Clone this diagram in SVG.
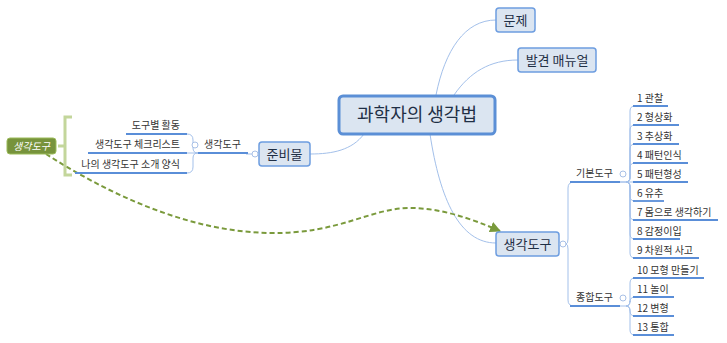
<svg xmlns="http://www.w3.org/2000/svg" width="727" height="343" viewBox="0 0 727 343">
<defs>
<style>
.t{font-family:"Noto Sans CJK KR","Noto Sans",sans-serif;fill:#333}
.nt{font-size:13px;fill:#1f2f45;text-anchor:middle}
.ct{font-size:18px;fill:#1f2f45;text-anchor:middle}
.lb{font-size:10px}
.box{fill:#dbe5f1;stroke:#6d9de0;stroke-width:1.5}
.cbox{fill:#dbe5f1;stroke:#5b8fd6;stroke-width:3}
.ul{stroke:#5a8ed8;stroke-width:1.8;fill:none}
.cn{stroke:#a3c0ea;stroke-width:1;fill:none}
.tg{fill:#fff;stroke:#a8c0e6;stroke-width:1}
</style>
<marker id="ah" viewBox="0 0 10 10" refX="9" refY="5" markerWidth="11" markerHeight="11" markerUnits="userSpaceOnUse" orient="auto">
<path d="M0,0 L10,5 L0,10 z" fill="#7a9a3c"/>
</marker>
</defs>
<rect width="727" height="343" fill="#fff"/>

<g id="connectors">
<path class="cn" d="M364 134 C352 150 333 154 310 154"/>
<path class="cn" d="M436 95 C445 50 465 20 496 20"/>
<path class="cn" d="M454 95 C470 72 490 60 518 60"/>
<path class="cn" d="M430 134 C440 200 460 243 496 243"/>
<path class="cn" d="M252 154 H246"/>
<path class="cn" d="M198 153 Q193 153 193 148 V140 Q193 134 187 134"/>
<path class="cn" d="M198 153 H187"/>
<path class="cn" d="M198 153 Q193 153 193 158 V167 Q193 173 187 173"/>
<path class="cn" d="M566 244 Q568 244 568 239 V188 Q568 182 574 182"/>
<path class="cn" d="M566 244 Q568 244 568 249 V300 Q568 306 574 306"/>
<path class="cn" d="M620 182 H626 Q630 182 630 177 V111 Q630 106 635 106"/>
<path class="cn" d="M626 182 Q630 182 630 177 V130 Q630 125 635 125"/>
<path class="cn" d="M626 182 Q630 182 630 177 V149 Q630 144 635 144"/>
<path class="cn" d="M626 182 Q630 182 630 177 V168 Q630 163 635 163"/>
<path class="cn" d="M620 182 H635"/>
<path class="cn" d="M626 182 Q630 182 630 187 V196 Q630 201 635 201"/>
<path class="cn" d="M626 182 Q630 182 630 187 V215 Q630 220 635 220"/>
<path class="cn" d="M626 182 Q630 182 630 187 V234 Q630 239 635 239"/>
<path class="cn" d="M626 182 Q630 182 630 187 V253 Q630 258 635 258"/>
<path class="cn" d="M620 306 H626 Q630 306 630 301 V283 Q630 278 635 278"/>
<path class="cn" d="M626 306 Q630 306 630 301 V302 Q630 297 635 297"/>
<path class="cn" d="M626 306 Q630 306 630 311 V311 Q630 316 635 316"/>
<path class="cn" d="M626 306 Q630 306 630 311 V330 Q630 335 635 335"/>
<path d="M46 154 C110 195 190 232 270 233 C340 234 370 208 410 208 C440 208 470 218 500 231" fill="none" stroke="#7a9a3c" stroke-width="2" stroke-dasharray="5,3" marker-end="url(#ah)"/>
</g>

<g id="central">
<rect class="cbox" x="339" y="96" width="156" height="38" rx="4"/>
<text class="t ct" x="417" y="121">과학자의 생각법</text>
</g>
<g id="n-problem">
<rect class="box" x="496" y="8" width="39" height="24" rx="3"/>
<text class="t nt" x="515.5" y="25">문제</text>
</g>
<g id="n-manual">
<rect class="box" x="518" y="48" width="78" height="24" rx="3"/>
<text class="t nt" x="557" y="65">발견 매뉴얼</text>
</g>
<g id="n-prep">
<rect class="box" x="259" y="142" width="51" height="24" rx="3"/>
<text class="t nt" x="284.5" y="159">준비물</text>
<circle class="tg" cx="255" cy="154" r="3"/>
</g>
<g id="n-tools">
<rect class="box" x="496" y="232" width="63" height="24" rx="3"/>
<text class="t nt" x="527.5" y="249">생각도구</text>
<circle class="tg" cx="563" cy="244" r="3"/>
</g>

<g id="n-left-tools">
<text class="t lb" x="222.5" y="148" text-anchor="middle">생각도구</text>
<path class="ul" d="M198 153 H248"/>
<circle class="tg" cx="195" cy="145" r="3"/>
</g>
<g id="n-l1"><text class="t lb" x="180" y="129" text-anchor="end">도구별 활동</text><path class="ul" d="M126 134 H187"/></g>
<g id="n-l2"><text class="t lb" x="180" y="148" text-anchor="end">생각도구 체크리스트</text><path class="ul" d="M88 153 H187"/></g>
<g id="n-l3"><text class="t lb" x="180" y="168" text-anchor="end">나의 생각도구 소개 양식</text><path class="ul" d="M75 173 H187"/></g>

<g id="n-summary">
<path d="M72 117 H65 V175 H72 M65 146 H58" fill="none" stroke="#c3d69b" stroke-width="3"/>
<rect x="7" y="138" width="49" height="16" rx="3" fill="#77933c" stroke="#9bbb59" stroke-width="1"/>
<text x="31.5" y="150" font-family="Noto Sans CJK KR,Noto Sans,sans-serif" font-size="10" font-style="italic" fill="#fff" text-anchor="middle">생각도구</text>
</g>

<g id="n-basic">
<text class="t lb" x="594.5" y="177" text-anchor="middle">기본도구</text>
<path class="ul" d="M570 182 H620"/>
<circle class="tg" cx="623" cy="174" r="3"/>
</g>
<g id="n-compound">
<text class="t lb" x="594.5" y="301" text-anchor="middle">종합도구</text>
<path class="ul" d="M570 306 H620"/>
<circle class="tg" cx="623" cy="298" r="3"/>
</g>

<g id="n-i1"><text class="t lb" x="637" y="102">1 관찰</text><path class="ul" d="M633 106 H668"/></g>
<g id="n-i2"><text class="t lb" x="637" y="121">2 형상화</text><path class="ul" d="M633 125 H679"/></g>
<g id="n-i3"><text class="t lb" x="637" y="140">3 추상화</text><path class="ul" d="M633 144 H679"/></g>
<g id="n-i4"><text class="t lb" x="637" y="159">4 패턴인식</text><path class="ul" d="M633 163 H688"/></g>
<g id="n-i5"><text class="t lb" x="637" y="178">5 패턴형성</text><path class="ul" d="M633 182 H688"/></g>
<g id="n-i6"><text class="t lb" x="637" y="197">6 유추</text><path class="ul" d="M633 201 H664"/></g>
<g id="n-i7"><text class="t lb" x="637" y="216">7 몸으로 생각하기</text><path class="ul" d="M633 220 H718"/></g>
<g id="n-i8"><text class="t lb" x="637" y="235">8 감정이입</text><path class="ul" d="M633 239 H680"/></g>
<g id="n-i9"><text class="t lb" x="637" y="254">9 차원적 사고</text><path class="ul" d="M633 258 H699"/></g>
<g id="n-i10"><text class="t lb" x="637" y="274">10 모형 만들기</text><path class="ul" d="M633 278 H704"/></g>
<g id="n-i11"><text class="t lb" x="637" y="293">11 놀이</text><path class="ul" d="M633 297 H674"/></g>
<g id="n-i12"><text class="t lb" x="637" y="312">12 변형</text><path class="ul" d="M633 316 H674"/></g>
<g id="n-i13"><text class="t lb" x="637" y="331">13 통합</text><path class="ul" d="M633 335 H674"/></g>
</svg>
